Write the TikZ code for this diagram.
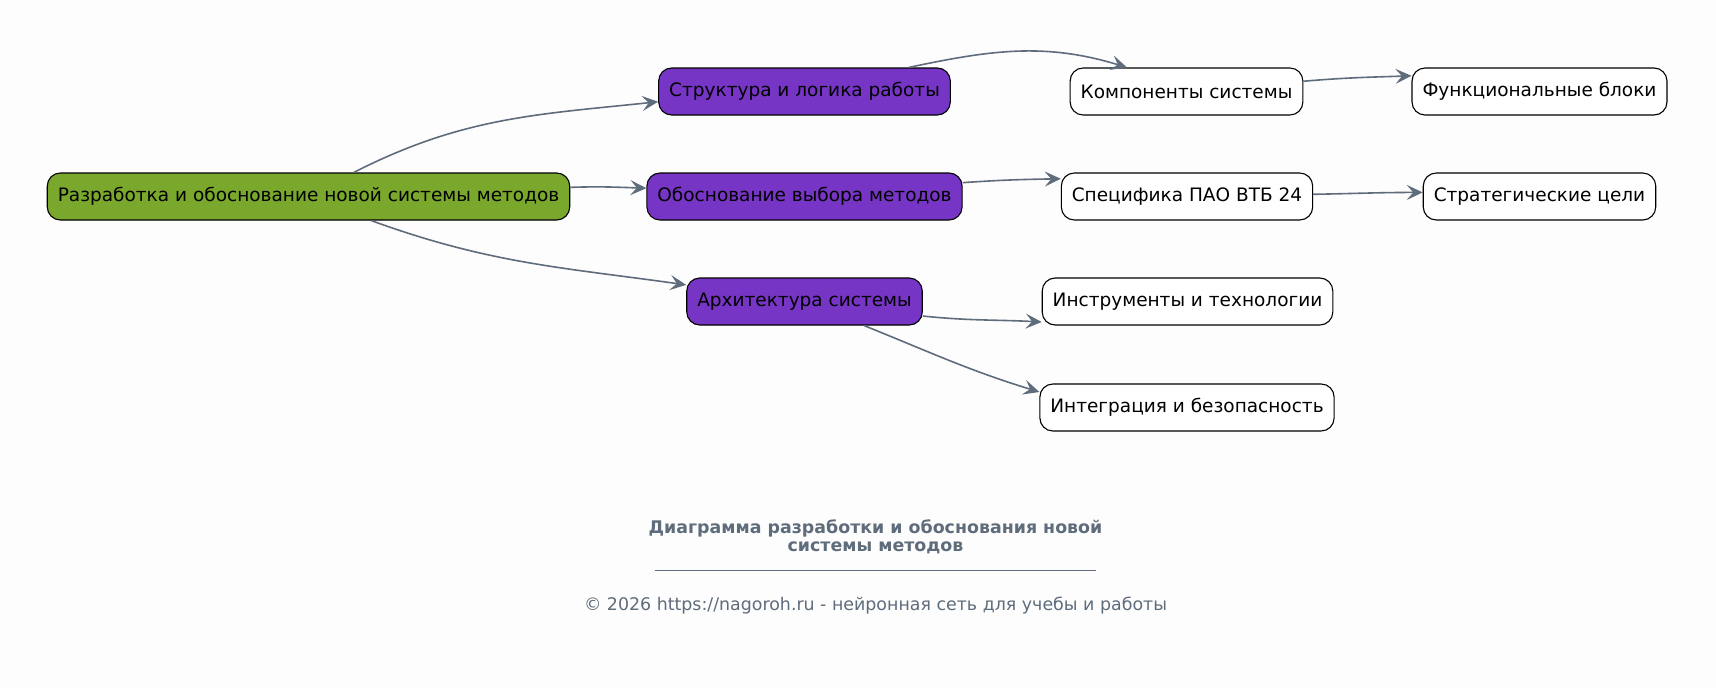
\documentclass[tikz,border=0pt]{standalone}
\usepackage{fontspec}
\setmainfont{DejaVu Sans}
\usetikzlibrary{arrows.meta}
\definecolor{verde}{HTML}{7AA82D}
\definecolor{viola}{HTML}{7635C4}
\definecolor{grigio}{HTML}{5F6C7B}
\definecolor{sfondo}{HTML}{FDFDFD}

\begin{document}
\begin{tikzpicture}[x=1pt, y=1pt, every node/.style={rectangle},
  box/.style={draw=black, line width=1.1pt, rounded corners=13pt, minimum height=47pt, inner xsep=10.5pt, fill=white, font=\fontsize{18.5}{22}\selectfont},
  testo/.style={text=grigio, align=center, font=\fontsize{17.4}{17.5}\selectfont},
  arr/.style={draw=grigio, line width=1.6pt, -{Stealth[length=16pt, width=15pt, inset=6.5pt]}}]

  \fill[sfondo] (0,0) rectangle (1716,-688);
  \useasboundingbox (0,0) rectangle (1716,-688);

  % nodi
  \node[box, fill=verde] (a) at (308.5,-196.5) {Разработка и обоснование новой системы методов};
  \node[box, fill=viola] (b) at (804.5,-91.5) {Структура и логика работы};
  \node[box, fill=viola] (c) at (804.5,-196.5) {Обоснование выбора методов};
  \node[box, fill=viola] (d) at (804.5,-301.5) {Архитектура системы};
  \node[box] (e) at (1186.5,-91.5) {Компоненты системы};
  \node[box] (f) at (1187,-196.5) {Специфика ПАО ВТБ 24};
  \node[box] (g) at (1187.5,-301.5) {Инструменты и технологии};
  \node[box] (h) at (1187,-407.5) {Интеграция и безопасность};
  \node[box] (i) at (1539.5,-91.5) {Функциональные блоки};
  \node[box] (j) at (1539.5,-196.5) {Стратегические цели};

  % titolo
  \node[testo] (t) at (875.5,-536.7) {\bfseries Диаграмма разработки и обоснования новой\\\bfseries системы методов};
  \node[testo] (r) at (875.5,-570) {\rule{441pt}{1pt}};
  \node[testo] (cp) at (875.5,-606) {© 2026 https://nagoroh.ru - нейронная сеть для учебы и работы};

  % archi
  \draw[arr] (a.28) to[out=27, in=186] (b.184);
  \draw[arr] (a.2) to[out=2, in=178] (c.177);
  \draw[arr] (a.-21) to[out=-20, in=172] (d.172);
  \draw[arr] (b.13) to[out=12, in=163] (e.158);
  \draw[arr] (c.5) to[out=4, in=181] (f.172);
  \draw[arr] (d.-7) to[out=-6, in=177] (g.188);
  \draw[arr] (d.-22) to[out=-22, in=163] (h.174);
  \draw[arr] (e.5) to[out=5, in=182] (i.173);
  \draw[arr] (f.1) to[out=1, in=180] (j.178);
\end{tikzpicture}
\end{document}
